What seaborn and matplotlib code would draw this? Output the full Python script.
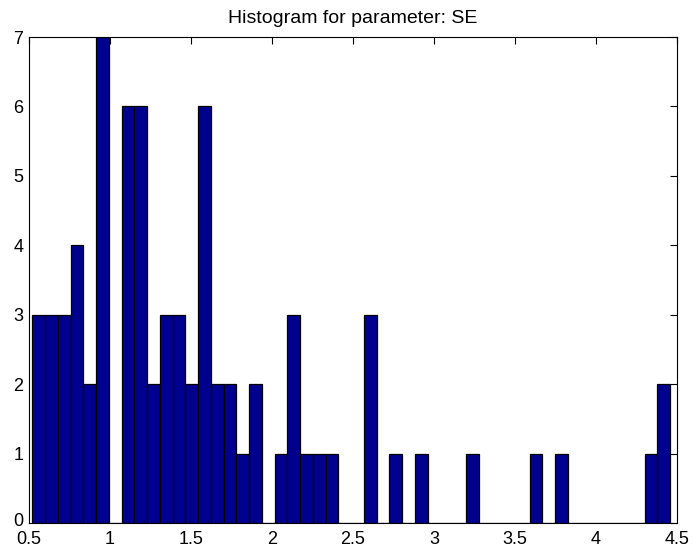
import numpy as np
import pandas as pd
import seaborn as sns
import matplotlib
matplotlib.use("Agg")
import matplotlib.pyplot as plt
import matplotlib.transforms as mtransforms

# histogram counts per bin (50 bins)
counts = [3, 3, 3, 4, 2, 7, 0, 6, 6, 2,
          3, 3, 2, 6, 2, 2, 1, 2, 0, 1,
          3, 1, 1, 1, 0, 0, 3, 0, 1, 0,
          1, 0, 0, 0, 1, 0, 0, 0, 0, 1,
          0, 1, 0, 0, 0, 0, 0, 0, 1, 2]
data_min = 0.52
data_max = 4.457
xticks = [0.5, 1, 1.5, 2, 2.5, 3, 3.5, 4, 4.5]
xticklabels = ["0.5", "1", "1.5", "2", "2.5", "3", "3.5", "4", "4.5"]
yticks = [0, 1, 2, 3, 4, 5, 6, 7]

edges = np.linspace(data_min, data_max, len(counts) + 1)
centers = (edges[:-1] + edges[1:]) / 2
df = pd.DataFrame({"SE": centers, "n": counts})

sns.set_theme(style="white")
plt.rcParams['font.family'] = ['Liberation Sans', 'DejaVu Sans']

fig = plt.figure(figsize=(6.96, 5.55), dpi=100)
ax = fig.add_axes([0.0417, 0.0577, 0.931, 0.8756])
sns.histplot(data=df, x="SE", weights="n", bins=len(counts),
             binrange=(data_min, data_max), ax=ax,
             color="#00008F", alpha=1, edgecolor="black")
# seaborn thins the outlines for narrow bars; put them back
for p in ax.patches:
    p.set_linewidth(0.9)
    p.set_edgecolor("black")

ax.set_xlim(0.5, 4.5)
ax.set_ylim(0, 7)
ax.set_xticks(xticks)
ax.set_xticklabels(xticklabels)
ax.set_yticks(yticks)
ax.set_xlabel("")
ax.set_ylabel("")
ax.tick_params(direction="in", length=5, width=0.8, top=True, right=True,
               labelsize=13, colors="black")
ax.tick_params(axis="x", pad=6)
ax.tick_params(axis="y", pad=4)
for s in ax.spines.values():
    s.set_color("black")
    s.set_linewidth(0.8)
ax.set_title("Histogram for parameter: SE", fontsize=14, pad=10, color="black")

# nudge the bottom y label up a touch so it clears the "0.5" below it
lab0 = ax.get_yticklabels()[0]
lab0.set_transform(lab0.get_transform() +
                   mtransforms.ScaledTranslation(0, 3 / 100, fig.dpi_scale_trans))

fig.savefig("out.png", dpi=100)
